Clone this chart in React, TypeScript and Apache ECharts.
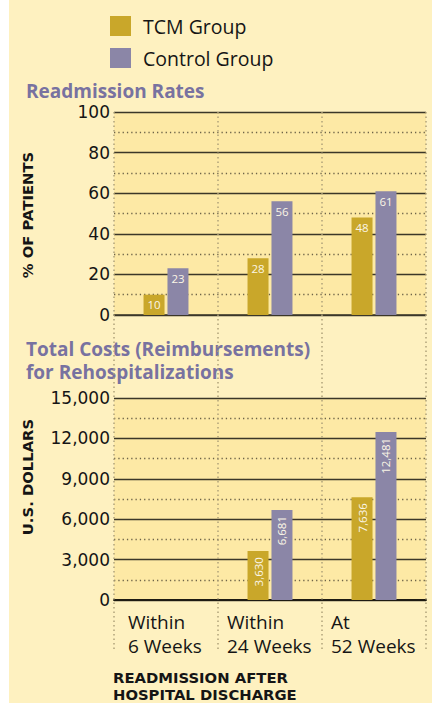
import React, { useEffect, useRef } from "react";
import * as echarts from "echarts";

const categories = ["Within\n6 Weeks", "Within\n24 Weeks", "At\n52 Weeks"];
const seriesNames = ["TCM Group", "Control Group"];
const readmitTCM = [10, 28, 48];
const readmitControl = [23, 56, 61];
const costTCM: (number | null)[] = [null, 3630, 7636];
const costControl: (number | null)[] = [null, 6681, 12481];
const titleTop = "Readmission Rates";
const titleBottom = ["Total Costs (Reimbursements)", "for Rehospitalizations"];
const yNameTop = "% OF PATIENTS";
const yNameBottom = "U.S. DOLLARS";
const xName = ["READMISSION AFTER", "HOSPITAL DISCHARGE"];

const BG = "#FEF1C0";
const PLOT_BG = "#FDE9A5";
const TCM = "#C9A72A";
const CTRL = "#8B86A7";
const TITLE = "#7872A0";
const SOLID = "#3b3728";
const DOT_H = "#6e6449";
const DOT_V = "#b0a27a";
const TEXT = "#151515";

const fmt = (v: number) => v.toLocaleString("en-US");

export default function App() {
  const ref = useRef<HTMLDivElement>(null);
  useEffect(() => {
    if (!ref.current) return;
    const chart = echarts.init(ref.current, null, { renderer: "svg" });
    const catWidths = [76, 86, 86];
    const rich: any = {};
    catWidths.forEach((w, i) => {
      rich["c" + i] = {
        width: w,
        align: "left",
        fontSize: 19,
        lineHeight: 24,
        fontFamily: "Open Sans",
        color: TEXT,
      };
    });
    const boldCaps = "bold 14.8px 'DejaVu Sans'";
    const barLabel = {
      show: true,
      position: "insideTop",
      distance: 4,
      color: "#FBF6E6",
      fontSize: 11.5,
      fontFamily: "Open Sans",
    };
    const costLabel = {
      ...barLabel,
      distance: 6,
      rotate: 90,
      align: "right",
      verticalAlign: "middle",
      formatter: (p: any) => fmt(p.value),
    };
    const option: any = {
      animation: false,
      backgroundColor: BG,
      legend: {
        orient: "vertical",
        left: 105,
        top: 11,
        itemWidth: 21,
        itemHeight: 20,
        itemGap: 12,
        icon: "rect",
        data: seriesNames,
        textStyle: {
          fontSize: 19.5,
          fontFamily: "Open Sans",
          color: TEXT,
          padding: [0, 0, 0, 7],
        },
        selectedMode: false,
      },
      grid: [
        { left: 114, top: 112, width: 312, height: 203, show: true, backgroundColor: PLOT_BG, borderWidth: 0 },
        { left: 114, top: 398, width: 312, height: 202, show: true, backgroundColor: PLOT_BG, borderWidth: 0 },
        { left: 114, top: 112, width: 312, height: 540, show: false },
      ],
      xAxis: [
        {
          type: "category",
          gridIndex: 0,
          data: categories,
          axisLine: { show: true, lineStyle: { color: SOLID, width: 1.5 } },
          axisTick: { show: false },
          axisLabel: { show: false },
          splitLine: { show: false },
        },
        {
          type: "category",
          gridIndex: 1,
          data: categories,
          axisLine: { show: true, lineStyle: { color: "#1e1b12", width: 2 } },
          axisTick: { show: false },
          axisLabel: {
            show: true,
            margin: 10,
            interval: 0,
            formatter: (v: string, i: number) =>
              v.split("\n").map((l) => `{c${i}|${l}}`).join("\n"),
            rich,
          },
          splitLine: { show: false },
        },
        {
          type: "category",
          gridIndex: 2,
          data: categories,
          z: 3,
          axisLine: { show: false },
          axisTick: { show: false },
          axisLabel: { show: false },
          splitLine: {
            show: true,
            interval: 0,
            lineStyle: { color: DOT_V, width: 1.5, type: [1.5, 3] },
          },
        },
      ],
      yAxis: [
        {
          type: "value",
          gridIndex: 0,
          min: 0,
          max: 100,
          interval: 20,
          axisLine: { show: false },
          axisTick: { show: false },
          axisLabel: { fontSize: 17, fontFamily: "DejaVu Sans", color: TEXT, margin: 4 },
          splitLine: { show: true, lineStyle: { color: SOLID, width: 1.3 } },
          minorTick: { show: false, splitNumber: 2 },
          minorSplitLine: { show: true, lineStyle: { color: DOT_H, width: 1.3, type: [1.3, 3] } },
        },
        {
          type: "value",
          gridIndex: 1,
          min: 0,
          max: 15000,
          interval: 3000,
          axisLine: { show: false },
          axisTick: { show: false },
          axisLabel: {
            fontSize: 17,
            fontFamily: "DejaVu Sans",
            color: TEXT,
            margin: 4,
            formatter: (v: number) => fmt(v),
          },
          splitLine: { show: true, lineStyle: { color: SOLID, width: 1.3 } },
          minorTick: { show: false, splitNumber: 2 },
          minorSplitLine: { show: true, lineStyle: { color: DOT_H, width: 1.3, type: [1.3, 3] } },
        },
        {
          type: "value",
          gridIndex: 2,
          show: false,
          splitLine: { show: false },
        },
      ],
      series: [
        {
          name: seriesNames[0],
          type: "bar",
          xAxisIndex: 0,
          yAxisIndex: 0,
          data: readmitTCM,
          barWidth: 21,
          barGap: "14%",
          itemStyle: { color: TCM },
          label: barLabel,
        },
        {
          name: seriesNames[1],
          type: "bar",
          xAxisIndex: 0,
          yAxisIndex: 0,
          data: readmitControl,
          barWidth: 21,
          barGap: "14%",
          itemStyle: { color: CTRL },
          label: barLabel,
        },
        {
          name: seriesNames[0],
          type: "bar",
          xAxisIndex: 1,
          yAxisIndex: 1,
          data: costTCM,
          barWidth: 21,
          barGap: "14%",
          itemStyle: { color: TCM },
          label: costLabel,
        },
        {
          name: seriesNames[1],
          type: "bar",
          xAxisIndex: 1,
          yAxisIndex: 1,
          data: costControl,
          barWidth: 21,
          barGap: "14%",
          itemStyle: { color: CTRL },
          label: costLabel,
        },
      ],
      graphic: [
        { type: "rect", shape: { x: 0, y: 0, width: 9, height: 703 }, style: { fill: "#ffffff" }, z: 10 },
        {
          type: "text",
          x: 26,
          y: 90.5,
          style: { text: titleTop, font: "bold 19px 'Open Sans'", fill: TITLE, verticalAlign: "middle" },
        },
        {
          type: "text",
          x: 26,
          y: 348.5,
          style: { text: titleBottom[0], font: "bold 19px 'Open Sans'", fill: TITLE, verticalAlign: "middle" },
        },
        {
          type: "text",
          x: 26,
          y: 372,
          style: { text: titleBottom[1], font: "bold 19px 'Open Sans'", fill: TITLE, verticalAlign: "middle" },
        },
        {
          type: "text",
          x: 27,
          y: 215,
          rotation: Math.PI / 2,
          style: { text: yNameTop, font: boldCaps, fill: TEXT, align: "center", verticalAlign: "middle" },
        },
        {
          type: "text",
          x: 27,
          y: 477,
          rotation: Math.PI / 2,
          style: { text: yNameBottom, font: boldCaps, fill: TEXT, align: "center", verticalAlign: "middle" },
        },
        {
          type: "text",
          x: 113,
          y: 677,
          style: { text: xName[0], font: boldCaps, fill: TEXT, verticalAlign: "middle" },
        },
        {
          type: "text",
          x: 113,
          y: 694.5,
          style: { text: xName[1], font: boldCaps, fill: TEXT, verticalAlign: "middle" },
        },
      ],
    };
    chart.setOption(option);
    return () => chart.dispose();
  }, []);
  return (
    <div
      ref={ref}
      style={{ position: "absolute", left: 0, top: 0, width: 432, height: 703 }}
    />
  );
}
